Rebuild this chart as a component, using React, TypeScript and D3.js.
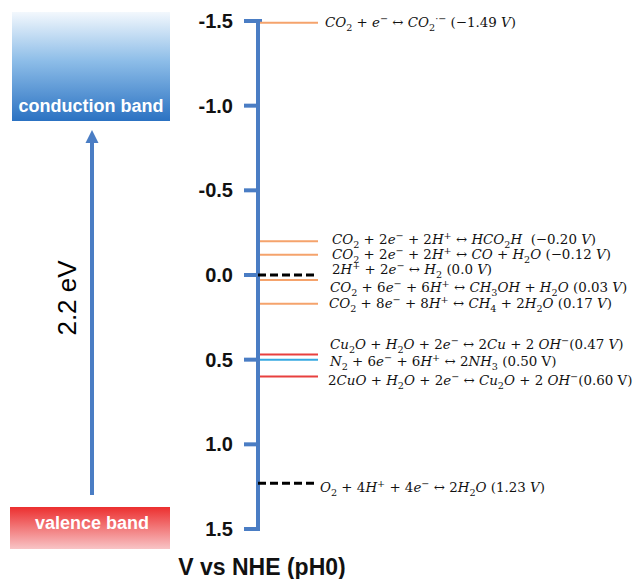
import React from 'react';
import * as d3 from 'd3';

// ---------- data ----------
const potentials = [-1.49, -0.2, -0.12, 0.0, 0.03, 0.17, 0.47, 0.5, 0.6, 1.23];
const reactions = [
  'CO_2 + e^− ↔ CO_2^{·−} (−1.49 V)',
  'CO_2 + 2e^− + 2H^+ ↔ HCO_2H  (−0.20 V)',
  'CO_2 + 2e^− + 2H^+ ↔ CO + H_2O (−0.12 V)',
  '2H^+ + 2e^− ↔ H_2 (0.0 V)',
  'CO_2 + 6e^− + 6H^+ ↔ CH_3OH + H_2O (0.03 V)',
  'CO_2 + 8e^− + 8H^+ ↔ CH_4 + 2H_2O (0.17 V)',
  'Cu_2O + H_2O + 2e^− ↔ 2Cu + 2 OH^−(0.47 V)',
  'N_2 + 6e^− + 6H^+ ↔ 2NH_3 (0.50 |V|)',
  '2CuO + H_2O + 2e^− ↔ Cu_2O + 2 OH^−(0.60 |V|)',
  'O_2 + 4H^+ + 4e^− ↔ 2H_2O (1.23 V)',
];
const reactionKinds = ['co2', 'co2', 'co2', 'ref', 'co2', 'co2', 'cu', 'n2', 'cu', 'ref'];
const tickValues = [-1.5, -1.0, -0.5, 0.0, 0.5, 1.0, 1.5];
const tickLabels = ['-1.5', '-1.0', '-0.5', '0.0', '0.5', '1.0', '1.5'];
const bandGapLabel = '2.2 eV';
const axisTitle = 'V vs NHE (pH0)';
const conductionLabel = 'conduction band';
const valenceLabel = 'valence band';

// ---------- layout / style ----------
const W = 636;
const H = 579;
const axisX = 258;
const kindColor: Record<string, string> = {
  co2: '#F5A36C',
  ref: '#000000',
  cu: '#E8403F',
  n2: '#36A9E1',
};
const labelX = [325, 332, 332, 332, 330, 329, 330, 330, 328, 320];
const labelY = [22, 239, 254, 269, 287, 303, 344, 361, 380, 487];
const axisBlue = '#4A7DC4';

type Run = { t: string; shift: number; it: boolean };

function parseMarkup(s: string): Run[] {
  const raw: { t: string; shift: number; roman: boolean }[] = [];
  let roman = false;
  let buf = '';
  const flush = () => {
    if (buf) raw.push({ t: buf, shift: 0, roman });
    buf = '';
  };
  let i = 0;
  while (i < s.length) {
    const c = s[i];
    if (c === '|') {
      flush();
      roman = !roman;
      i++;
    } else if (c === '_' || c === '^') {
      flush();
      let g = '';
      if (s[i + 1] === '{') {
        const end = s.indexOf('}', i + 2);
        g = s.slice(i + 2, end);
        i = end + 1;
      } else {
        g = s[i + 1];
        i += 2;
      }
      raw.push({ t: g, shift: c === '_' ? -1 : 1, roman });
    } else {
      buf += c;
      i++;
    }
  }
  flush();
  const runs: Run[] = [];
  raw.forEach((r) => {
    if (r.roman) {
      runs.push({ t: r.t, shift: r.shift, it: false });
      return;
    }
    const parts = r.t.match(/[A-Za-z]+|[^A-Za-z]+/g) || [];
    parts.forEach((p) => runs.push({ t: p, shift: r.shift, it: /[A-Za-z]/.test(p) }));
  });
  return runs;
}

function Reaction({ text, x, y, fs }: { text: string; x: number; y: number; fs: number }) {
  const runs = parseMarkup(text);
  let cur = 0;
  return (
    <text
      x={x}
      y={y}
      fontFamily="'DejaVu Serif', 'Liberation Serif', serif"
      fontSize={fs}
      fill="#111"
      style={{ whiteSpace: 'pre' }}
    >
      {runs.map((r, k) => {
        const target = r.shift === -1 ? fs * 0.3 : r.shift === 1 ? -fs * 0.35 : 0;
        const dy = target - cur;
        cur = target;
        return (
          <tspan
            key={k}
            dy={dy}
            fontStyle={r.it ? 'italic' : 'normal'}
            fontSize={r.shift ? fs * 0.72 : fs}
          >
            {r.t}
          </tspan>
        );
      })}
    </text>
  );
}

export default function App() {
  const y = d3.scaleLinear().domain([-1.5, 1.5]).range([21, 529]);
  const lineEnd = axisX + 60;
  return (
    <svg width={W} height={H} style={{ display: 'block', position: 'absolute', left: 0, top: 0 }}>
      <defs>
        <linearGradient id="cb" x1="0" y1="0" x2="0" y2="1">
          <stop offset="0" stopColor="#F3F8FD" />
          <stop offset="0.45" stopColor="#8DBDE8" />
          <stop offset="1" stopColor="#2B72C2" />
        </linearGradient>
        <linearGradient id="vb" x1="0" y1="0" x2="0" y2="1">
          <stop offset="0" stopColor="#EC2F2F" />
          <stop offset="1" stopColor="#F8C4C6" />
        </linearGradient>
      </defs>
      <rect width={W} height={H} fill="#fff" />

      {/* conduction band */}
      <rect x={12} y={12} width={158} height={109} fill="url(#cb)" />
      <text
        x={91}
        y={112}
        textAnchor="middle"
        fill="#fff"
        fontFamily="'Liberation Sans', Arial, sans-serif"
        fontWeight="bold"
        fontSize={18}
      >
        {conductionLabel}
      </text>

      {/* valence band */}
      <rect x={10} y={507} width={160} height={42} fill="url(#vb)" />
      <text
        x={92}
        y={529}
        textAnchor="middle"
        fill="#fff"
        fontFamily="'Liberation Sans', Arial, sans-serif"
        fontWeight="bold"
        fontSize={18}
      >
        {valenceLabel}
      </text>

      {/* band gap arrow */}
      <line x1={92} y1={495} x2={92} y2={140} stroke={axisBlue} strokeWidth={4} />
      <path d="M92,130 L85.5,143 L98.5,143 Z" fill={axisBlue} />
      <text
        transform={`translate(76,298) rotate(-90)`}
        textAnchor="middle"
        fontFamily="'Liberation Sans', Arial, sans-serif"
        fontSize={26}
        fill="#000"
      >
        {bandGapLabel}
      </text>

      {/* potential axis */}
      <line x1={axisX} y1={y(-1.5) - 2} x2={axisX} y2={y(1.5) + 2} stroke={axisBlue} strokeWidth={4} />
      <line x1={axisX - 2} y1={y(-1.5)} x2={axisX + 4} y2={y(-1.5)} stroke={axisBlue} strokeWidth={4} />
      {tickValues.map((v, i) => (
        <g key={i}>
          <line x1={244} y1={y(v)} x2={axisX} y2={y(v)} stroke={axisBlue} strokeWidth={4} />
          <text
            x={233}
            y={y(v)}
            dy="0.35em"
            textAnchor="end"
            fontFamily="'Liberation Sans', Arial, sans-serif"
            fontWeight="bold"
            fontSize={20}
            fill="#111"
          >
            {tickLabels[i]}
          </text>
        </g>
      ))}

      {/* reaction potentials */}
      {potentials.map((v, i) => {
        const kind = reactionKinds[i];
        const isRef = kind === 'ref';
        return (
          <line
            key={i}
            x1={axisX + (isRef ? 0 : 2)}
            x2={lineEnd}
            y1={y(v)}
            y2={y(v)}
            stroke={kindColor[kind]}
            strokeWidth={isRef ? 3 : 2}
            strokeDasharray={isRef ? '8,4' : undefined}
          />
        );
      })}
      {reactions.map((r, i) => (
        <Reaction key={i} text={r} x={labelX[i]} y={labelY[i] + 5} fs={13.4} />
      ))}

      {/* axis title */}
      <text
        x={262}
        y={575}
        textAnchor="middle"
        fontFamily="'Liberation Sans', Arial, sans-serif"
        fontWeight="bold"
        fontSize={23}
        fill="#111"
      >
        {axisTitle}
      </text>
    </svg>
  );
}
